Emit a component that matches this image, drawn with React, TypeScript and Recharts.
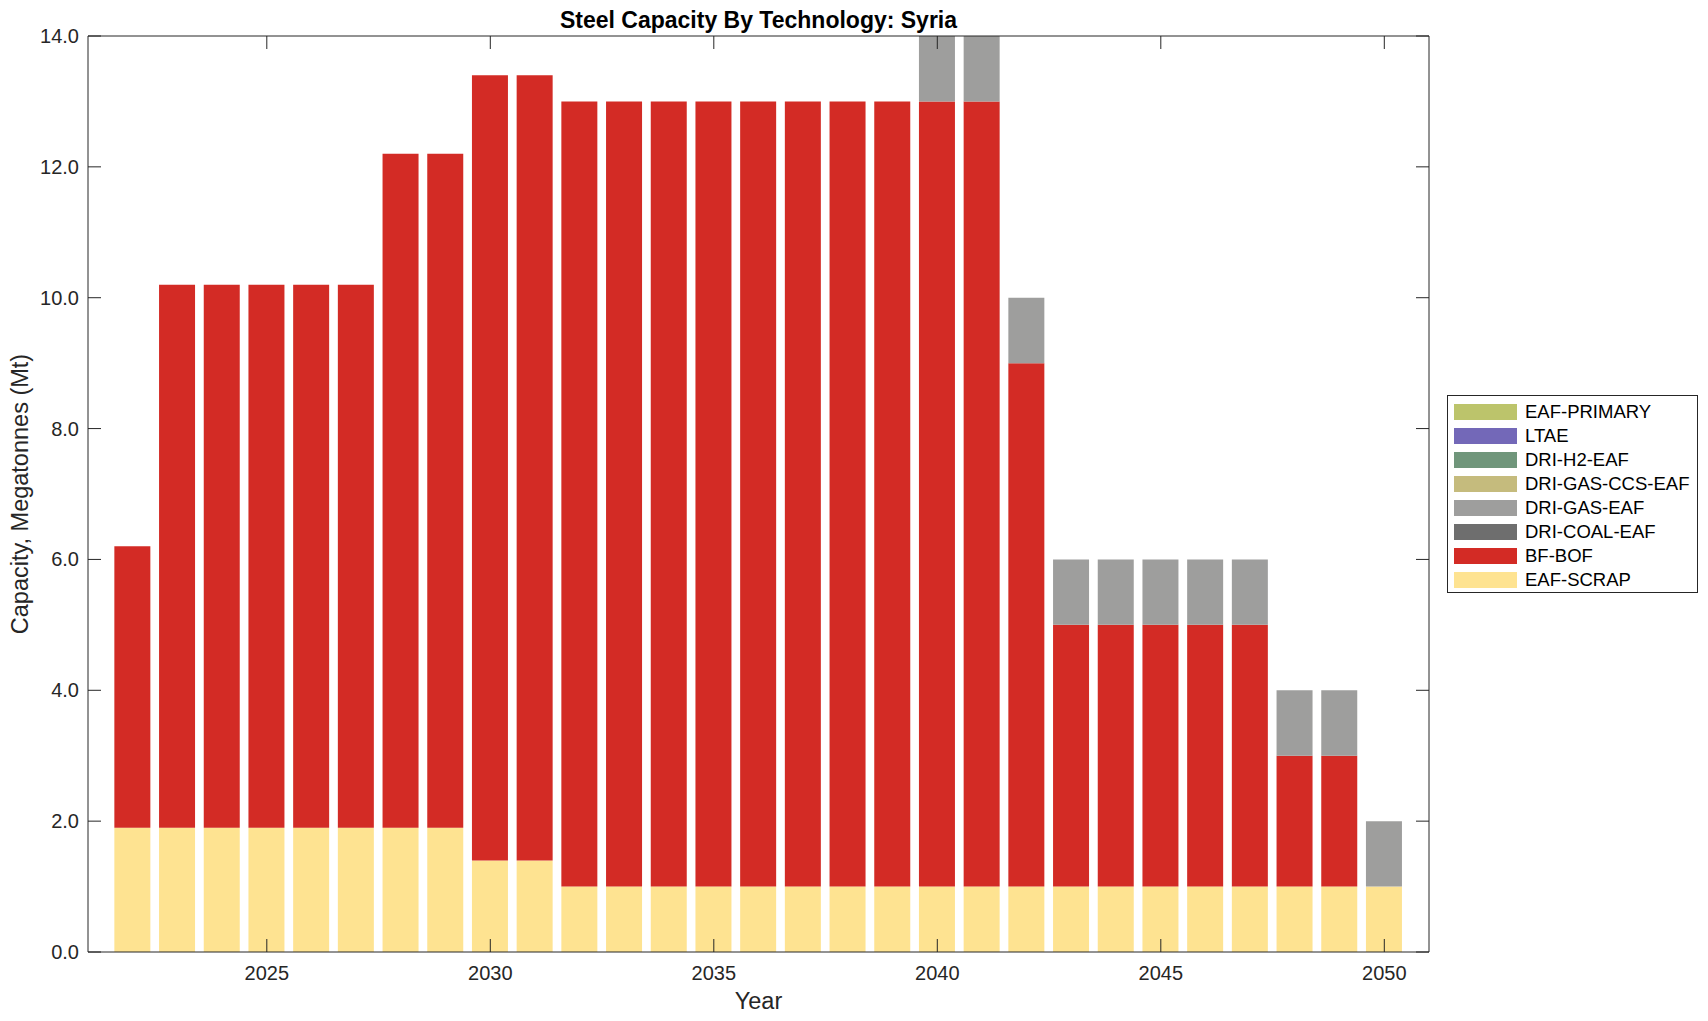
import React from 'react';
import { BarChart, Bar, XAxis, YAxis } from 'recharts';

const YEARS = [
  2022, 2023, 2024, 2025, 2026, 2027, 2028, 2029, 2030, 2031,
  2032, 2033, 2034, 2035, 2036, 2037, 2038, 2039, 2040, 2041,
  2042, 2043, 2044, 2045, 2046, 2047, 2048, 2049, 2050,
];

const EAF_SCRAP = [
  1.9, 1.9, 1.9, 1.9, 1.9, 1.9, 1.9, 1.9, 1.4, 1.4,
  1, 1, 1, 1, 1, 1, 1, 1, 1, 1,
  1, 1, 1, 1, 1, 1, 1, 1, 1,
];
const BF_BOF = [
  4.3, 8.3, 8.3, 8.3, 8.3, 8.3, 10.3, 10.3, 12, 12,
  12, 12, 12, 12, 12, 12, 12, 12, 12, 12,
  8, 4, 4, 4, 4, 4, 2, 2, 0,
];
const DRI_COAL_EAF = YEARS.map(() => 0);
const DRI_GAS_EAF = [
  0, 0, 0, 0, 0, 0, 0, 0, 0, 0,
  0, 0, 0, 0, 0, 0, 0, 0, 1, 1,
  1, 1, 1, 1, 1, 1, 1, 1, 1,
];
const DRI_GAS_CCS_EAF = YEARS.map(() => 0);
const DRI_H2_EAF = YEARS.map(() => 0);
const LTAE = YEARS.map(() => 0);
const EAF_PRIMARY = YEARS.map(() => 0);

const Y_TICKS = [0, 2, 4, 6, 8, 10, 12, 14];
const X_TICKS = [2025, 2030, 2035, 2040, 2045, 2050];

// stacking order, bottom first
const SERIES = [
  { key: 'EAF-SCRAP', values: EAF_SCRAP, color: '#fee391' },
  { key: 'BF-BOF', values: BF_BOF, color: '#d32b25' },
  { key: 'DRI-COAL-EAF', values: DRI_COAL_EAF, color: '#6e6e6e' },
  { key: 'DRI-GAS-EAF', values: DRI_GAS_EAF, color: '#9e9e9d' },
  { key: 'DRI-GAS-CCS-EAF', values: DRI_GAS_CCS_EAF, color: '#c5bb7d' },
  { key: 'DRI-H2-EAF', values: DRI_H2_EAF, color: '#70967b' },
  { key: 'LTAE', values: LTAE, color: '#7368b8' },
  { key: 'EAF-PRIMARY', values: EAF_PRIMARY, color: '#bcc46b' },
];

const data = YEARS.map((year, i) => {
  const row: Record<string, number> = { year };
  SERIES.forEach((s) => { row[s.key] = s.values[i]; });
  return row;
});

const W = 1708;
const H = 1021;
const LEFT = 88;
const RIGHT = 1429;
const TOP = 36;
const BOTTOM = 952;
const TICK_LEN = 13;
const AXIS_COLOR = '#262626';
const FONT = '"Liberation Sans", Arial, Helvetica, sans-serif';

const Y_AXIS_W = 60;
const X_AXIS_H = 40;
const MIRROR = 10;

const LeftTick = ({ y, payload }: any) => (
  <g>
    <line x1={LEFT} x2={LEFT + TICK_LEN} y1={y} y2={y} stroke={AXIS_COLOR} />
    <text x={LEFT - 9} y={y + 7} textAnchor="end" fontSize={20} fill={AXIS_COLOR} fontFamily={FONT}>
      {Number(payload.value).toFixed(1)}
    </text>
  </g>
);

const RightTick = ({ y }: any) => (
  <line x1={RIGHT - TICK_LEN} x2={RIGHT} y1={y} y2={y} stroke={AXIS_COLOR} />
);

const BottomTick = ({ x, payload }: any) => (
  <g>
    <line x1={x} x2={x} y1={BOTTOM} y2={BOTTOM - TICK_LEN} stroke={AXIS_COLOR} />
    <text x={x} y={BOTTOM + 28} textAnchor="middle" fontSize={20} fill={AXIS_COLOR} fontFamily={FONT}>
      {payload.value}
    </text>
  </g>
);

const TopTick = ({ x }: any) => (
  <line x1={x} x2={x} y1={TOP} y2={TOP + TICK_LEN} stroke={AXIS_COLOR} />
);

const App = () => {
  const legendItems = [...SERIES].reverse();
  return (
    <div style={{ position: 'absolute', left: 0, top: 0, width: W, height: H, background: '#fff', fontFamily: FONT }}>
      <BarChart
        width={W}
        height={H}
        data={data}
        margin={{
          top: TOP - MIRROR,
          right: W - RIGHT - MIRROR,
          bottom: H - BOTTOM - X_AXIS_H,
          left: LEFT - Y_AXIS_W,
        }}
        barCategoryGap="20%"
      >
        <XAxis
          xAxisId="bottom"
          dataKey="year"
          type="number"
          domain={[2021, 2051]}
          ticks={X_TICKS}
          height={X_AXIS_H}
          tickLine={false}
          tick={<BottomTick />}
          axisLine={{ stroke: AXIS_COLOR }}
          interval={0}
        />
        <XAxis
          xAxisId="top"
          dataKey="year"
          orientation="top"
          type="number"
          domain={[2021, 2051]}
          ticks={X_TICKS}
          height={MIRROR}
          tickLine={false}
          tick={<TopTick />}
          axisLine={{ stroke: AXIS_COLOR }}
          interval={0}
        />
        <YAxis
          yAxisId="left"
          domain={[0, 14]}
          ticks={Y_TICKS}
          width={Y_AXIS_W}
          allowDataOverflow
          tickLine={false}
          tick={<LeftTick />}
          axisLine={{ stroke: AXIS_COLOR }}
          interval={0}
        />
        <YAxis
          yAxisId="right"
          orientation="right"
          domain={[0, 14]}
          ticks={Y_TICKS}
          width={MIRROR}
          allowDataOverflow
          tickLine={false}
          tick={<RightTick />}
          axisLine={{ stroke: AXIS_COLOR }}
          interval={0}
        />
        {SERIES.map((s) => (
          <Bar
            key={s.key}
            dataKey={s.key}
            stackId="a"
            xAxisId="bottom"
            yAxisId="left"
            fill={s.color}
            barSize={36}
            isAnimationActive={false}
          />
        ))}
      </BarChart>

      <div
        style={{
          position: 'absolute', left: LEFT, width: RIGHT - LEFT, top: 7, textAlign: 'center',
          fontWeight: 'bold', fontSize: 23, color: '#000',
        }}
      >
        Steel Capacity By Technology: Syria
      </div>
      <div
        style={{
          position: 'absolute', left: LEFT, width: RIGHT - LEFT, top: 988, textAlign: 'center',
          fontSize: 23.5, color: AXIS_COLOR,
        }}
      >
        Year
      </div>
      <div
        style={{
          position: 'absolute', left: 20, top: (TOP + BOTTOM) / 2, width: 0, height: 0,
        }}
      >
        <div
          style={{
            position: 'absolute', transform: 'translate(-50%, -50%) rotate(-90deg)',
            whiteSpace: 'nowrap', fontSize: 23.5, color: AXIS_COLOR,
          }}
        >
          Capacity, Megatonnes (Mt)
        </div>
      </div>

      <div
        style={{
          position: 'absolute', left: 1447, top: 395, width: 251, height: 198, boxSizing: 'border-box',
          border: `1px solid ${AXIS_COLOR}`, background: '#fff',
        }}
      >
        {legendItems.map((s, i) => (
          <div
            key={s.key}
            style={{ position: 'absolute', left: 6, top: 8 + i * 24, height: 16, display: 'flex', alignItems: 'center' }}
          >
            <div style={{ width: 63, height: 16, background: s.color }} />
            <span style={{ marginLeft: 8, fontSize: 18.5, color: '#000', whiteSpace: 'nowrap' }}>{s.key}</span>
          </div>
        ))}
      </div>
    </div>
  );
};

export default App;
